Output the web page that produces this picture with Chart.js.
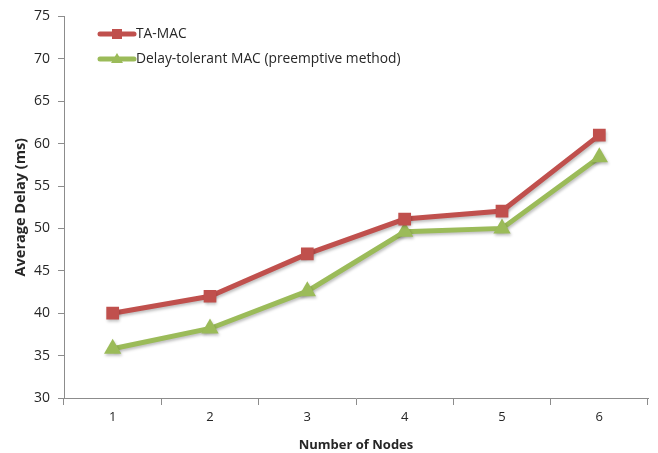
<!DOCTYPE html>
<html>
<head>
<meta charset="utf-8">
<script src="https://cdn.jsdelivr.net/npm/chart.js@4.4.0/dist/chart.umd.min.js"></script>
<style>
  html, body { margin: 0; padding: 0; background: #fff; }
  #wrap { width: 658px; height: 453px; position: relative; }
</style>
</head>
<body>
<div id="wrap"><canvas id="chart"></canvas></div>
<script>
  const nodeLabels = ['1', '2', '3', '4', '5', '6'];
  const taMacDelay = [40, 42, 47, 51.1, 52.05, 61];
  const delayTolerantDelay = [35.8, 38.2, 42.6, 49.6, 50, 58.4];
  const seriesNames = ['TA-MAC', 'Delay-tolerant MAC (preemptive method)'];
  const yTicks = [30, 35, 40, 45, 50, 55, 60, 65, 70, 75];

  const axisColor = '#8c8c8c';
  const textColor = '#262626';
  const fontFamily = "'Open Sans', 'Noto Sans', sans-serif";

  // draws the stacked legend inside the plot, like the original
  const insideLegend = {
    id: 'insideLegend',
    afterDraw(chart) {
      const ctx = chart.ctx;
      const x0 = 100, y0 = 34, gap = 25;
      chart.data.datasets.forEach((ds, i) => {
        const y = y0 + i * gap;
        ctx.save();
        ctx.strokeStyle = ds.borderColor;
        ctx.lineWidth = 5;
        ctx.lineCap = 'round';
        ctx.beginPath();
        ctx.moveTo(x0, y);
        ctx.lineTo(x0 + 34, y);
        ctx.stroke();
        ctx.fillStyle = ds.backgroundColor;
        if (ds.pointStyle === 'rect') {
          ctx.fillRect(x0 + 17 - 5, y - 5, 10, 10);
        } else {
          ctx.beginPath();
          ctx.moveTo(x0 + 17, y - 6);
          ctx.lineTo(x0 + 23, y + 4);
          ctx.lineTo(x0 + 11, y + 4);
          ctx.closePath();
          ctx.fill();
        }
        ctx.fillStyle = textColor;
        ctx.font = '13.8px ' + fontFamily;
        ctx.textBaseline = 'middle';
        ctx.fillText(ds.label, x0 + 36, y);
        ctx.restore();
      });
    }
  };

  // soft drop shadow on lines and markers
  const shadowPlugin = {
    id: 'shadowPlugin',
    beforeDatasetsDraw(chart) {
      const ctx = chart.ctx;
      ctx.save();
      ctx.shadowColor = 'rgba(0,0,0,0.25)';
      ctx.shadowBlur = 3;
      ctx.shadowOffsetX = 1;
      ctx.shadowOffsetY = 2;
    },
    afterDatasetsDraw(chart) {
      chart.ctx.restore();
    }
  };

  const ctx = document.getElementById('chart').getContext('2d');
  new Chart(ctx, {
    type: 'line',
    data: {
      labels: nodeLabels,
      datasets: [
        {
          label: seriesNames[0],
          data: taMacDelay,
          borderColor: '#c0504d',
          backgroundColor: '#c0504d',
          borderWidth: 5,
          pointStyle: 'rect',
          pointRadius: 9,
          pointBorderWidth: 0,
          tension: 0
        },
        {
          label: seriesNames[1],
          data: delayTolerantDelay,
          borderColor: '#9bbb59',
          backgroundColor: '#9bbb59',
          borderWidth: 5,
          pointStyle: 'triangle',
          pointRadius: 10,
          pointBorderWidth: 0,
          tension: 0
        }
      ]
    },
    options: {
      responsive: true,
      maintainAspectRatio: false,
      animation: false,
      layout: { padding: { top: 12, right: 7, left: 0, bottom: 0 } },
      plugins: {
        legend: { display: false },
        tooltip: { enabled: false }
      },
      scales: {
        x: {
          offset: true,
          grid: {
            offset: true,
            drawOnChartArea: false,
            drawTicks: true,
            tickLength: 7,
            color: axisColor
          },
          border: { color: axisColor, width: 1 },
          ticks: {
            color: textColor,
            font: { family: fontFamily, size: 13 },
            padding: 4
          },
          title: {
            display: true,
            text: 'Number of Nodes',
            color: textColor,
            font: { family: fontFamily, size: 13, weight: 'bold' },
            padding: { top: 6, bottom: 0 }
          },
          afterFit(scale) { scale.height = 55; }
        },
        y: {
          min: 30,
          max: 75,
          afterBuildTicks(scale) {
            scale.ticks = yTicks.map(v => ({ value: v }));
          },
          grid: {
            drawOnChartArea: false,
            drawTicks: true,
            tickLength: 6,
            color: axisColor
          },
          border: { color: axisColor, width: 1 },
          ticks: {
            color: textColor,
            font: { family: fontFamily, size: 14 },
            padding: 8
          },
          title: {
            display: true,
            text: 'Average Delay (ms)',
            color: textColor,
            font: { family: fontFamily, size: 14.5, weight: 'bold' },
            padding: { top: 12, bottom: 0 }
          },
          afterFit(scale) { scale.width = 64; }
        }
      }
    },
    plugins: [shadowPlugin, insideLegend]
  });
</script>
</body>
</html>
